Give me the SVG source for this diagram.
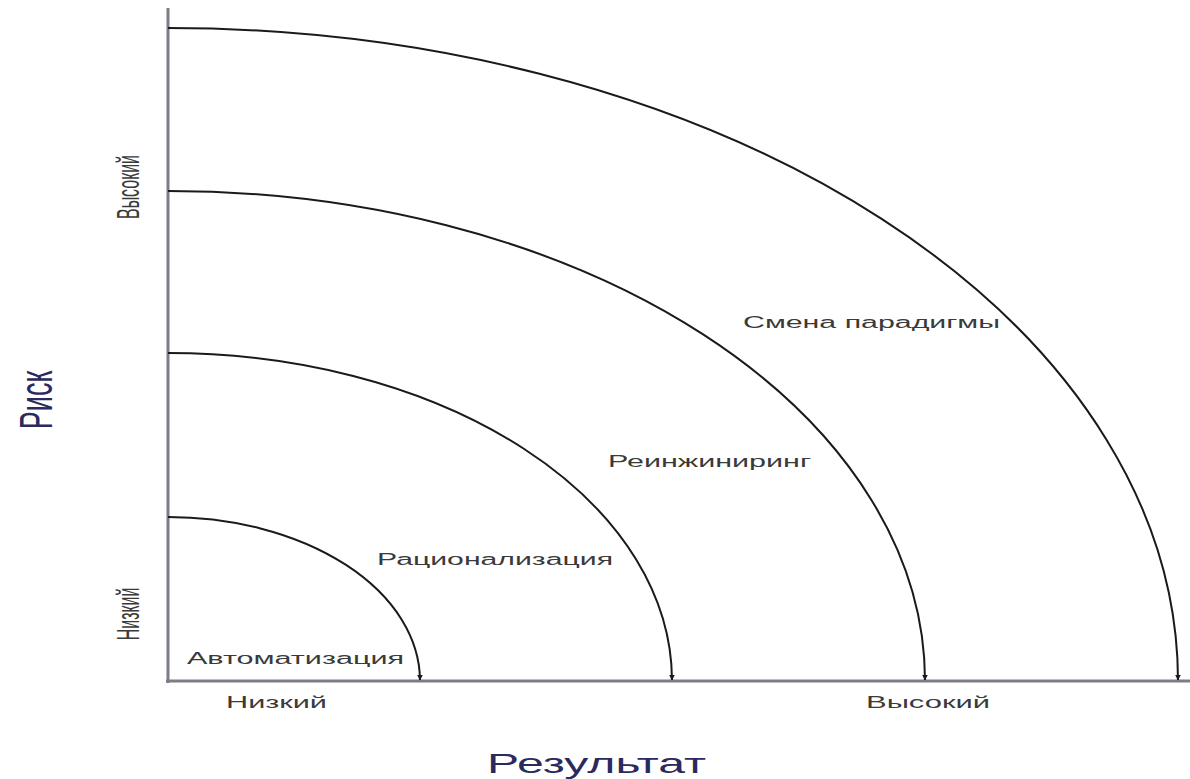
<svg xmlns="http://www.w3.org/2000/svg" width="1190" height="779" viewBox="0 0 1190 779">
<defs>
<style>
.axis{stroke:#7d7d88;stroke-width:3;fill:none}
.arc{stroke:#1a1a1a;stroke-width:2;fill:none}
.lbl{font-family:"Liberation Sans",Arial,sans-serif;font-size:16px;fill:#3a3a3a}
.ttl{font-family:"Liberation Sans",Arial,sans-serif;fill:#2a2a5e}
</style>
<marker id="ah" viewBox="0 0 10 10" refX="9" refY="5" markerWidth="6" markerHeight="6" orient="auto" markerUnits="userSpaceOnUse">
<path d="M0,0 L10,5 L0,10 Z" fill="#1a1a1a"/>
</marker>
</defs>
<rect width="1190" height="779" fill="#ffffff"/>
<g id="axes">
<line class="axis" x1="168" y1="8" x2="168" y2="683"/>
<line class="axis" x1="166" y1="681" x2="1190" y2="681"/>
</g>
<g id="connectors">
<path class="arc" d="M168,517 A252,164 0 0 1 420,680" marker-end="url(#ah)"/>
<path class="arc" d="M168,353 A504,328 0 0 1 672,680" marker-end="url(#ah)"/>
<path class="arc" d="M168,191 A757,490 0 0 1 925,680" marker-end="url(#ah)"/>
<path class="arc" d="M168,28 A1010,653 0 0 1 1178,680" marker-end="url(#ah)"/>
</g>
<g id="node-automation"><text class="lbl" x="187" y="664" textLength="217" lengthAdjust="spacingAndGlyphs">Автоматизация</text></g>
<g id="node-rationalization"><text class="lbl" x="377" y="565" textLength="236" lengthAdjust="spacingAndGlyphs">Рационализация</text></g>
<g id="node-reengineering"><text class="lbl" x="608" y="467" textLength="203" lengthAdjust="spacingAndGlyphs">Реинжиниринг</text></g>
<g id="node-paradigm"><text class="lbl" x="743" y="328" textLength="257" lengthAdjust="spacingAndGlyphs">Смена парадигмы</text></g>
<g id="x-labels">
<text class="lbl" x="226" y="708" textLength="101" lengthAdjust="spacingAndGlyphs">Низкий</text>
<text class="lbl" x="866" y="708" textLength="124" lengthAdjust="spacingAndGlyphs">Высокий</text>
<text class="ttl" x="487" y="773" font-size="28" textLength="219" lengthAdjust="spacingAndGlyphs">Результат</text>
</g>
<g id="y-labels">
<g transform="translate(139,187) scale(2,1) rotate(-90)"><text class="lbl" x="0" y="0" text-anchor="middle" font-size="15">Высокий</text></g>
<g transform="translate(139,614) scale(2,1) rotate(-90)"><text class="lbl" x="0" y="0" text-anchor="middle" font-size="15">Низкий</text></g>
<g transform="translate(52,400) scale(1.7,1) rotate(-90)"><text class="ttl" x="0" y="0" text-anchor="middle" font-size="27">Риск</text></g>
</g>
</svg>
